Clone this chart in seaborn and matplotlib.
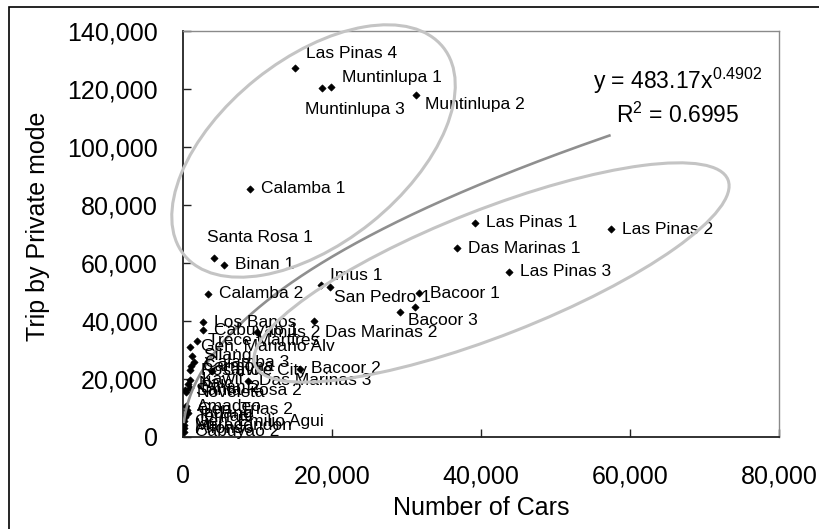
import numpy as np
import pandas as pd
import matplotlib
matplotlib.use("Agg")
import matplotlib.pyplot as plt
import seaborn as sns
from matplotlib.patches import Ellipse, Rectangle
from matplotlib.ticker import FuncFormatter
from matplotlib.transforms import IdentityTransform

# ---- data: zones, registered cars and private-mode trips ----
zones = [
    "Las Pinas 4", "Muntinlupa 1", "Muntinlupa 3", "Muntinlupa 2", "Calamba 1",
    "Santa Rosa 1", "Binan 1", "Imus 1", "San Pedro 1", "Calamba 2",
    "Las Pinas 1", "Las Pinas 2", "Das Marinas 1", "Las Pinas 3", "Bacoor 1",
    "Bacoor 3", "Imus 3", "Das Marinas 2", "Los Banos", "Cabuyao 1",
    "Imus 2", "Trece Martires", "Gen. Mariano Alv", "Silang", "Calamba 3",
    "Carmona", "Rosario", "Cavite City", "Bacoor 2", "Das Marinas 3",
    "Kawit", "Naic", "Binan 2", "Santa Rosa 2", "Noveleta",
    "Amadeo", "Gen. Trias 2", "Indang", "Ternate", "Gen. Emilio Agui",
    "Maragondon", "Alfonso", "Cabuyao 2",
]
cars = [
    15080, 19900, 18700, 31300, 9000,
    4100, 5500, 18500, 19700, 3400,
    39200, 57400, 36800, 43700, 31700,
    31100, 29100, 17600, 2700, 2700,
    9900, 1900, 950, 1200, 1500,
    1100, 950, 3900, 15700, 8700,
    1000, 650, 900, 300, 400,
    400, 500, 700, 300, 150,
    100, 200, 130,
]
trips = [
    127000, 120600, 120300, 117800, 85400,
    61600, 59200, 52300, 51500, 49200,
    73800, 71500, 64900, 56900, 49500,
    44800, 43000, 39950, 39500, 36700,
    36000, 33000, 30900, 27800, 25700,
    24200, 22900, 22600, 23300, 19150,
    19500, 18200, 16800, 16000, 15300,
    10500, 9300, 8100, 6800, 5300,
    3800, 2800, 1600,
]

# power trendline y = a * x^b
fit_a = 483.17
fit_b = 0.4902
fit_r2 = 0.6995

x_ticks = [0, 20000, 40000, 60000, 80000]
y_ticks = [0, 20000, 40000, 60000, 80000, 100000, 120000, 140000]

# label placement (pixels, right/down) for labels moved off the default spot
DEFAULT_OFFSET = (11, 0)
label_offsets = {
    "Las Pinas 4": (11, -15),
    "Muntinlupa 1": (11, -9),
    "Muntinlupa 3": (-17, 22),
    "Muntinlupa 2": (9, 9),
    "Santa Rosa 1": (-7, -20),
    "Imus 1": (9, -9),
    "San Pedro 1": (4, 10),
    "Bacoor 3": (-7, 14),
    "Das Marinas 2": (11, 12),
    "Imus 3": None,
}

# ---- style ----
sns.set_theme(style="white")
plt.rcParams["font.family"] = ["Liberation Sans", "DejaVu Sans"]
plt.rcParams["mathtext.fontset"] = "custom"
plt.rcParams["mathtext.rm"] = "Liberation Sans"
plt.rcParams["mathtext.it"] = "Liberation Sans:italic"

W, H, DPI = 820, 529, 100
fig = plt.figure(figsize=(W / DPI, H / DPI), dpi=DPI)
fig.patch.set_facecolor("white")

ax_l, ax_r, ax_t, ax_b = 183, 779, 30.7, 436.5
ax = fig.add_axes([ax_l / W, 1 - ax_b / H, (ax_r - ax_l) / W, (ax_b - ax_t) / H])

df = pd.DataFrame({"zone": zones, "cars": cars, "trips": trips})
sns.scatterplot(data=df, x="cars", y="trips", marker="D", color="black",
                edgecolor="black", linewidth=0.4, s=14, ax=ax, zorder=3,
                legend=False)

ax.set_xlim(x_ticks[0], x_ticks[-1])
ax.set_ylim(y_ticks[0], y_ticks[-1])

# trendline from the fitted equation
xs = np.linspace(min(cars), max(cars), 500)
ax.plot(xs, fit_a * xs ** fit_b, color="#8f8f8f", lw=1.9, zorder=4,
        solid_capstyle="butt")

# point labels
px2pt = 72 / DPI
for name, xv, yv in zip(zones, cars, trips):
    off = label_offsets.get(name, DEFAULT_OFFSET)
    if off is None:
        continue
    ax.annotate(name, (xv, yv), xytext=(off[0] * px2pt, -off[1] * px2pt),
                textcoords="offset points", ha="left", va="center",
                fontsize=12.5, color="black", zorder=5)

# axes formatting
fmt = FuncFormatter(lambda v, p: f"{v:,.0f}")
ax.set_xticks(x_ticks)
ax.set_yticks(y_ticks)
ax.xaxis.set_major_formatter(fmt)
ax.yaxis.set_major_formatter(fmt)
ax.tick_params(axis="both", which="major", direction="in", length=5.8,
               width=1.0, color="#222222", labelsize=18, labelcolor="black")
ax.tick_params(axis="x", pad=20, bottom=True, top=False)
ax.tick_params(axis="y", pad=18, left=True, right=False)
ax.grid(False)

for side in ("left", "bottom"):
    ax.spines[side].set_color("#222222")
    ax.spines[side].set_linewidth(1.3)
for side in ("top", "right"):
    ax.spines[side].set_color("#8a8a8a")
    ax.spines[side].set_linewidth(1.0)

ax.set_xlabel("Number of Cars", fontsize=18, color="black")
ax.set_ylabel("Trip by Private mode", fontsize=18, color="black")
ax.xaxis.set_label_coords(0.5, (ax_b - 496) / (ax_b - ax_t))
ax.yaxis.set_label_coords((50 - ax_l) / (ax_r - ax_l), 0.517)

# regression equation and R^2
eq_x = 678 / W
fig.text(eq_x, 1 - 89.3 / H, r"y = 483.17x$^{\mathregular{0.4902}}$",
         ha="center", va="baseline", fontsize=16.5, color="black")
fig.text(eq_x, 1 - 123.3 / H, r"R$^{\mathregular{2}}$ = 0.6995",
         ha="center", va="baseline", fontsize=16.5, color="black")

# grouping ellipses (centre in data units, size in pixels, angle in degrees)
groups = [
    ((17520, 98500), 332, 184, 38.7),
    ((41410, 56580), 508, 126, 21.4),
]
for (cx, cy), w, h, ang in groups:
    px, py = ax.transData.transform((cx, cy))
    fig.add_artist(Ellipse((px, py), w, h, angle=ang,
                           transform=IdentityTransform(), fill=False,
                           edgecolor="#c4c4c4", linewidth=2.2, zorder=6,
                           clip_on=False))

# outer chart border
fig.add_artist(Rectangle((8.5 / W, -0.05), 1.2, 1.05 - 7.3 / H,
                         transform=fig.transFigure, fill=False,
                         edgecolor="black", linewidth=1.2, clip_on=False,
                         zorder=10))

fig.savefig("out.png", dpi=DPI, facecolor="white")
